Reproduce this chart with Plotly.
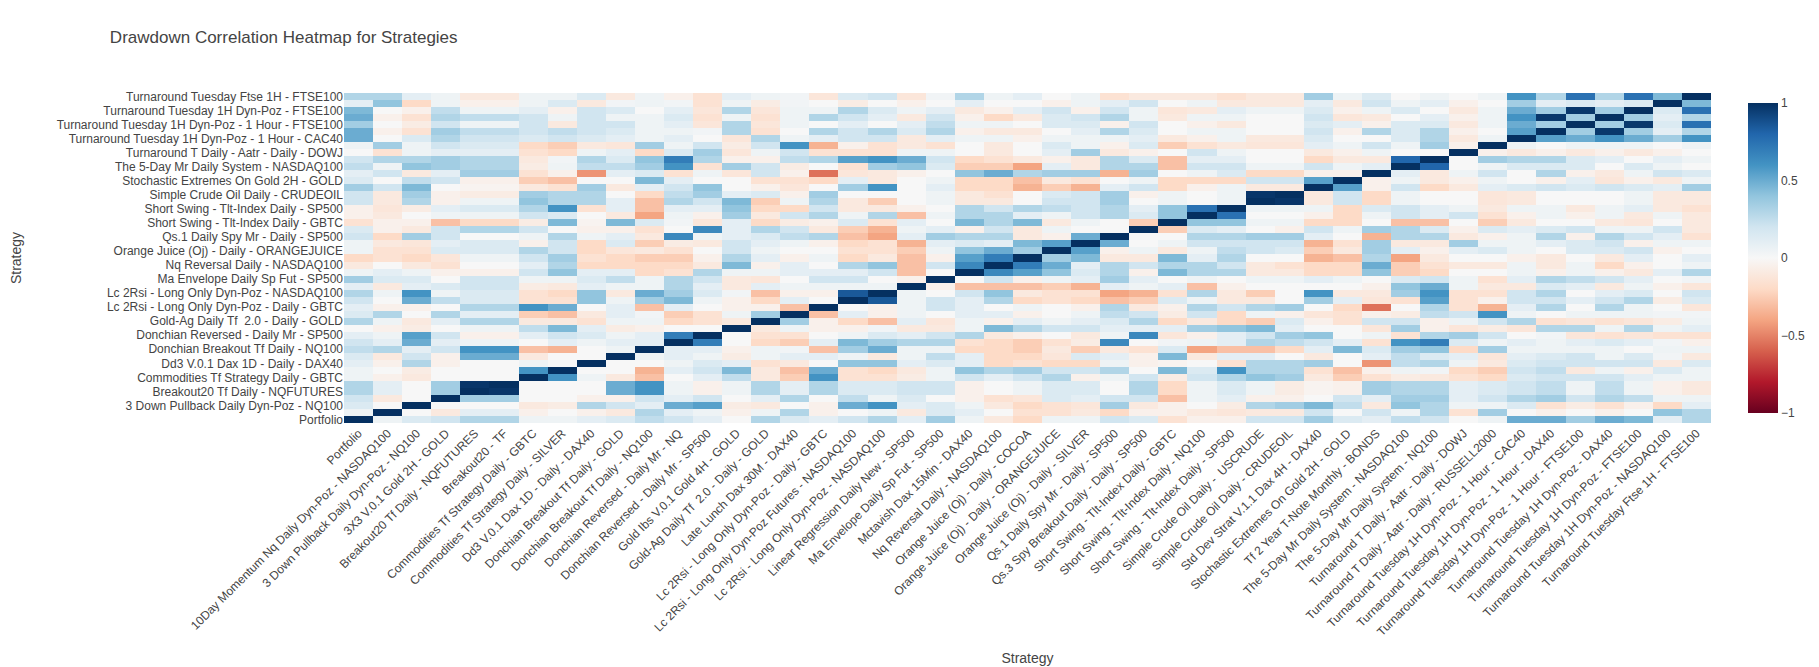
import numpy as np
import plotly.graph_objects as go

strategies = [
    "Portfolio",
    "10Day Momentum Nq Daily Dyn-Poz - NASDAQ100",
    "3 Down Pullback Daily Dyn-Poz - NQ100",
    "3X3 V.0.1 Gold 2H - GOLD",
    "Breakout20 Tf Daily - NQFUTURES",
    "Breakout20 - TF",
    "Commodities Tf Strategy Daily - GBTC",
    "Commodities Tf Strategy Daily - SILVER",
    "Dd3 V.0.1 Dax 1D - Daily - DAX40",
    "Donchian Breakout Tf Daily - GOLD",
    "Donchian Breakout Tf Daily - NQ100",
    "Donchian Reversed - Daily Mr - NQ",
    "Donchian Reversed - Daily Mr - SP500",
    "Gold Ibs V.0.1 Gold 4H - GOLD",
    "Gold-Ag Daily Tf  2.0 - Daily - GOLD",
    "Late Lunch Dax 30M - DAX40",
    "Lc 2Rsi - Long Only Dyn-Poz - Daily - GBTC",
    "Lc 2Rsi - Long Only Dyn-Poz Futures - NASDAQ100",
    "Lc 2Rsi - Long Only Dyn-Poz - NASDAQ100",
    "Linear Regression Daily New - SP500",
    "Ma Envelope Daily Sp Fut - SP500",
    "Mctavish Dax 15Min - DAX40",
    "Nq Reversal Daily - NASDAQ100",
    "Orange Juice (Oj) - Daily - COCOA",
    "Orange Juice (Oj) - Daily - ORANGEJUICE",
    "Orange Juice (Oj) - Daily - SILVER",
    "Qs.1 Daily Spy Mr - Daily - SP500",
    "Qs.3 Spy Breakout Daily - Daily - SP500",
    "Short Swing - Tlt-Index Daily - GBTC",
    "Short Swing - Tlt-Index Daily - NQ100",
    "Short Swing - Tlt-Index Daily - SP500",
    "Simple Crude Oil Daily -  USCRUDE",
    "Simple Crude Oil Daily - CRUDEOIL",
    "Std Dev Strat V.1.1 Dax 4H - DAX40",
    "Stochastic Extremes On Gold 2H - GOLD",
    "Tf 2 Year T-Note Monthly - BONDS",
    "The 5-Day Mr Daily System - NASDAQ100",
    "The 5-Day Mr Daily System - NQ100",
    "Turnaround T Daily - Aatr - Daily - DOWJ",
    "Turnaround T Daily - Aatr - Daily - RUSSELL2000",
    "Turnaround Tuesday 1H Dyn-Poz - 1 Hour - CAC40",
    "Turnaround Tuesday 1H Dyn-Poz - 1 Hour - DAX40",
    "Turnaround Tuesday 1H Dyn-Poz - 1 Hour - FTSE100",
    "Turnaround Tuesday 1H Dyn-Poz - DAX40",
    "Turnaround Tuesday 1H Dyn-Poz - FTSE100",
    "Turnaround Tuesday 1H Dyn-Poz - NASDAQ100",
    "Turnaround Tuesday Ftse 1H - FTSE100",
]

# Correlations of each strategy (column) with the strategies listed after it,
# written from the last strategy (top row) down to the one just after it.
col_00 = [0.3, 0.1, 0.45, 0.5, 0.35, 0.5, 0.5, 0.05, 0.0, 0.2,
          0.25, 0.1, 0.15, 0.35, 0.2, 0.2, -0.05, -0.05, -0.15, 0.15,
          0.2, 0.05, 0.05, -0.2, -0.1, 0.05, 0.35, 0.1, 0.3, 0.2,
          0.1, 0.15, 0.3, 0.0, 0.1, 0.2, 0.25, 0.15, 0.1, 0.05,
          0.05, 0.3, 0.3, 0.2, 0.15, 0.05]
col_01 = [0.3, 0.4, 0.0, -0.05, 0.0, -0.05, 0.0, 0.35, -0.15, 0.3,
          0.05, 0.2, 0.0, 0.2, -0.1, -0.1, -0.12, -0.1, -0.05, -0.05,
          -0.2, -0.1, -0.15, -0.15, 0.0, 0.1, 0.15, -0.1, 0.05, 0.0,
          -0.05, 0.3, 0.05, -0.05, 0.05, 0.1, 0.3, -0.1, -0.05, 0.0,
          -0.05, 0.1, 0.1, -0.1, 0.0]
col_02 = [0.1, -0.2, -0.05, -0.15, -0.08, -0.15, 0.15, 0.05, 0.05, 0.3,
          0.4, -0.1, 0.25, 0.45, 0.35, 0.3, -0.08, 0.0, -0.05, -0.1,
          0.35, -0.12, -0.15, -0.2, -0.1, 0.05, 0.15, 0.1, 0.6, 0.5,
          -0.05, 0.0, -0.1, -0.08, 0.55, 0.5, 0.1, 0.2, 0.3, -0.08,
          -0.1, 0.0, 0.0, 0.0]
col_03 = [0.05, 0.05, 0.25, 0.3, 0.2, 0.35, 0.3, 0.2, 0.1, 0.35,
          0.35, 0.1, 0.2, 0.0, -0.05, -0.05, 0.1, 0.05, -0.3, 0.2,
          0.2, 0.1, 0.15, -0.12, -0.15, -0.05, 0.0, 0.15, 0.05, 0.25,
          0.0, 0.3, 0.1, 0.0, 0.2, 0.1, 0.2, -0.05, -0.05, 0.0,
          0.0, 0.35, 0.35]
col_04 = [-0.1, -0.05, 0.05, 0.25, 0.05, 0.25, 0.2, 0.15, 0.1, 0.3,
          0.3, 0.35, -0.05, -0.03, -0.08, 0.05, 0.15, 0.05, -0.2, 0.3,
          0.0, 0.15, 0.15, 0.05, 0.0, -0.05, 0.2, 0.2, 0.15, 0.15,
          0.3, 0.1, 0.3, 0.05, -0.05, 0.05, 0.6, 0.5, 0.0, 0.0,
          0.0, 0.98]
col_05 = [-0.1, -0.05, 0.05, 0.25, 0.05, 0.25, 0.2, 0.15, 0.1, 0.3,
          0.3, 0.35, -0.05, -0.03, -0.08, 0.05, 0.15, 0.05, -0.2, 0.3,
          0.0, 0.15, 0.15, 0.05, 0.0, -0.05, 0.2, 0.2, 0.15, 0.15,
          0.3, 0.1, 0.3, 0.05, -0.05, 0.05, 0.6, 0.5, 0.0, 0.0,
          0.0]
col_06 = [0.05, 0.05, 0.1, 0.2, 0.2, 0.2, 0.15, -0.2, -0.15, -0.1,
          -0.08, -0.15, -0.25, -0.1, 0.35, 0.4, 0.3, 0.2, -0.08, 0.2,
          0.05, -0.05, 0.3, 0.2, 0.1, 0.2, 0.05, -0.08, -0.15, -0.15,
          0.6, -0.25, -0.1, 0.25, 0.1, 0.0, -0.3, -0.1, 0.05, 0.6]
col_07 = [0.05, 0.15, -0.05, 0.05, -0.1, 0.25, 0.2, -0.25, -0.2, 0.03,
          0.05, -0.05, -0.3, -0.15, 0.3, 0.3, 0.6, 0.15, 0.45, 0.0,
          0.3, 0.2, 0.2, 0.35, 0.3, 0.4, 0.05, -0.1, -0.2, -0.15,
          0.5, -0.3, -0.1, 0.45, 0.2, 0.1, -0.35, 0.0, 0.0]
col_08 = [0.15, -0.1, 0.2, 0.2, 0.2, 0.2, 0.15, -0.1, 0.05, 0.3,
          0.25, -0.45, 0.0, 0.35, 0.3, 0.3, -0.15, 0.0, -0.03, -0.05,
          0.05, -0.2, -0.2, -0.15, -0.2, 0.1, 0.15, 0.1, 0.4, 0.4,
          0.0, -0.1, -0.15, 0.1, 0.15, 0.05, 0.0, 0.0]
col_09 = [-0.1, 0.03, 0.15, 0.05, 0.2, 0.15, 0.1, -0.12, 0.1, 0.15,
          0.25, 0.1, 0.0, -0.1, 0.0, 0.1, 0.1, -0.1, 0.45, -0.05,
          0.1, 0.15, -0.12, -0.2, -0.2, 0.1, 0.25, 0.05, -0.1, 0.05,
          0.1, 0.1, 0.05, -0.08, 0.05, 0.1, 0.05]
col_10 = [0.05, 0.05, 0.0, 0.05, 0.05, 0.05, 0.05, 0.35, -0.2, 0.4,
          0.35, 0.15, 0.45, 0.1, -0.2, -0.3, -0.3, -0.4, 0.15, -0.15,
          -0.1, -0.25, -0.1, -0.25, -0.2, -0.2, 0.05, 0.05, 0.5, 0.35,
          -0.3, 0.03, 0.05, -0.05, 0.1, 0.1]
col_11 = [-0.05, 0.03, 0.1, 0.15, 0.1, 0.05, 0.1, 0.05, 0.15, 0.7,
          0.6, -0.15, 0.1, 0.2, 0.25, 0.3, 0.1, 0.05, 0.03, 0.0,
          0.65, -0.08, -0.15, -0.25, -0.2, -0.15, 0.3, 0.3, 0.35, 0.45,
          0.1, -0.25, -0.2, 0.0, 0.7]
col_12 = [-0.15, -0.15, -0.12, -0.15, -0.12, 0.03, 0.0, 0.2, 0.35, 0.3,
          -0.15, 0.05, 0.0, 0.4, 0.35, 0.2, 0.1, -0.05, -0.12, 0.65,
          0.05, -0.1, 0.0, -0.05, -0.1, 0.3, 0.2, 0.1, 0.15, 0.05,
          0.0, -0.15, -0.15, 0.0]
col_13 = [0.1, 0.05, 0.3, 0.05, 0.3, 0.3, -0.12, -0.08, -0.12, -0.05,
          0.35, -0.12, 0.0, 0.0, 0.1, 0.45, 0.4, 0.35, 0.1, 0.1,
          0.1, 0.2, 0.2, 0.3, 0.45, 0.05, -0.1, -0.1, 0.03, -0.05,
          -0.05, 0.05, -0.1]
col_14 = [0.05, -0.08, -0.12, -0.15, -0.12, -0.15, 0.3, 0.2, 0.05, -0.05,
          0.2, 0.2, -0.15, -0.05, 0.15, -0.25, -0.2, -0.1, -0.2, 0.3,
          0.15, 0.1, 0.05, 0.1, -0.05, 0.05, -0.12, 0.1, -0.3, -0.2,
          -0.05, 0.35]
col_15 = [0.03, 0.03, 0.05, 0.05, 0.05, 0.0, 0.05, 0.6, 0.2, 0.25,
          -0.08, -0.05, -0.15, -0.12, -0.05, 0.05, -0.2, 0.2, -0.08, 0.2,
          0.25, 0.05, 0.0, -0.05, 0.1, 0.1, 0.0, 0.05, -0.05, 0.1,
          -0.3]
col_16 = [-0.12, 0.0, 0.05, 0.3, 0.0, 0.3, 0.1, -0.35, -0.15, 0.3,
          0.0, -0.55, -0.2, 0.0, 0.35, 0.3, 0.2, 0.3, -0.05, -0.1,
          0.3, -0.05, 0.0, 0.05, 0.0, 0.1, 0.2, 0.05, -0.05, 0.0]
col_17 = [0.15, -0.08, 0.3, 0.2, 0.1, 0.2, 0.2, -0.05, -0.15, 0.55,
          -0.15, -0.12, 0.1, 0.35, 0.0, -0.1, -0.1, 0.05, 0.15, -0.25,
          -0.3, -0.2, -0.15, -0.2, 0.3, 0.1, 0.2, 0.05, 0.85]
col_18 = [0.2, 0.0, 0.15, 0.1, 0.0, 0.3, 0.2, -0.15, -0.15, 0.6,
          0.35, -0.1, -0.1, 0.6, 0.0, -0.25, -0.1, 0.3, -0.15, -0.35,
          -0.4, -0.15, -0.15, -0.1, 0.4, 0.2, 0.0, 0.05]
col_19 = [-0.12, -0.05, 0.05, -0.1, 0.1, 0.15, -0.1, -0.1, 0.05, 0.5,
          0.4, -0.05, 0.0, 0.0, 0.0, 0.0, -0.05, -0.3, 0.1, 0.05,
          0.1, -0.35, -0.25, -0.3, -0.3, -0.3, -0.05]
col_20 = [0.03, 0.0, 0.1, 0.2, 0.25, 0.3, 0.1, -0.15, 0.05, 0.2,
          0.15, 0.0, 0.05, 0.1, 0.05, 0.05, 0.0, 0.05, 0.0, 0.1,
          0.35, 0.1, 0.05, -0.05, 0.2, 0.0]
col_21 = [0.3, 0.1, -0.1, -0.05, 0.05, -0.05, 0.05, 0.0, 0.0, -0.2,
          -0.25, 0.4, -0.2, -0.2, -0.1, -0.1, 0.3, 0.3, 0.45, -0.05,
          0.3, 0.15, 0.4, 0.55, 0.65]
col_22 = [0.05, 0.0, -0.05, -0.2, 0.05, -0.1, 0.05, -0.1, -0.1, -0.15,
          -0.25, 0.5, -0.2, -0.2, -0.15, -0.1, 0.2, 0.3, 0.3, 0.2,
          0.3, 0.1, 0.5, 0.7]
col_23 = [0.1, 0.0, 0.1, -0.1, 0.0, -0.1, -0.05, 0.0, 0.0, -0.1,
          -0.4, 0.3, -0.3, -0.35, 0.0, 0.0, 0.3, 0.1, 0.45, -0.1,
          -0.1, 0.45, 0.35]
col_24 = [0.0, -0.05, 0.2, 0.15, 0.15, 0.0, 0.05, 0.15, 0.1, -0.05,
          0.1, 0.35, -0.1, -0.25, 0.15, 0.2, 0.25, 0.05, -0.1, 0.05,
          -0.05, 0.55]
col_25 = [0.05, 0.05, -0.05, 0.2, 0.15, 0.1, 0.05, 0.05, 0.35, -0.1,
          -0.1, 0.35, -0.15, -0.35, 0.2, 0.2, 0.2, 0.2, 0.05, 0.0,
          0.5]
col_26 = [-0.15, 0.1, 0.2, 0.3, -0.05, 0.3, 0.05, -0.05, -0.1, 0.3,
          0.3, -0.35, 0.0, 0.1, 0.35, 0.35, 0.3, 0.3, 0.0, 0.0]
col_27 = [-0.1, 0.2, 0.05, 0.05, 0.2, 0.15, 0.1, 0.15, -0.05, 0.15,
          0.3, 0.35, 0.05, 0.2, -0.05, 0.0, 0.1, 0.15, -0.25]
col_28 = [-0.1, 0.0, -0.12, -0.1, 0.0, 0.0, -0.1, -0.25, 0.0, -0.3,
          -0.3, 0.0, -0.2, -0.2, 0.05, 0.05, 0.4, 0.4]
col_29 = [-0.1, 0.05, -0.1, 0.05, -0.05, 0.05, -0.05, -0.15, 0.2, 0.1,
          0.2, 0.05, -0.2, -0.05, 0.0, 0.0, 0.75]
col_30 = [-0.15, -0.1, 0.1, 0.05, -0.1, 0.05, 0.05, -0.1, 0.05, 0.1,
          0.2, 0.15, -0.2, 0.05, 0.05, 0.05]
col_31 = [-0.1, -0.1, 0.05, 0.0, 0.0, 0.0, -0.1, -0.12, 0.0, 0.0,
          0.05, -0.2, 0.2, -0.1, 0.98]
col_32 = [-0.1, -0.1, 0.05, 0.0, 0.0, 0.0, -0.1, -0.12, 0.0, 0.0,
          0.05, -0.2, 0.2, -0.1]
col_33 = [0.35, 0.1, 0.15, 0.2, 0.15, 0.2, 0.15, 0.1, -0.1, -0.2,
          0.2, -0.05, 0.55]
col_34 = [0.05, -0.1, -0.05, -0.12, 0.1, -0.05, 0.0, 0.05, -0.05, -0.1,
          0.05, -0.05]
col_35 = [0.15, 0.2, 0.05, -0.1, -0.05, 0.3, 0.0, 0.2, 0.05, -0.1, 0.1]
col_36 = [0.0, 0.05, 0.15, 0.0, 0.15, 0.15, 0.15, 0.05, 0.0, 0.8]
col_37 = [0.05, 0.1, 0.0, 0.1, 0.15, 0.3, 0.3, 0.35, 0.0]
col_38 = [0.0, -0.05, -0.1, -0.05, -0.1, -0.05, -0.1, -0.05]
col_39 = [0.05, 0.0, 0.05, 0.05, 0.05, 0.0, 0.05]
col_40 = [0.6, 0.35, 0.5, 0.6, 0.5, 0.55]
col_41 = [0.3, 0.1, 0.35, 0.97, 0.35]
col_42 = [0.75, 0.15, 0.97, 0.35]
col_43 = [0.3, 0.1, 0.35]
col_44 = [0.75, 0.15]
col_45 = [0.45]

columns = [col_00, col_01, col_02, col_03, col_04, col_05, col_06, col_07,
           col_08, col_09, col_10, col_11, col_12, col_13, col_14, col_15,
           col_16, col_17, col_18, col_19, col_20, col_21, col_22, col_23,
           col_24, col_25, col_26, col_27, col_28, col_29, col_30, col_31,
           col_32, col_33, col_34, col_35, col_36, col_37, col_38, col_39,
           col_40, col_41, col_42, col_43, col_44, col_45]

n = len(strategies)
z = np.eye(n)
for c, vals in enumerate(columns):
    assert len(vals) == n - 1 - c, (c, len(vals))
    for k, v in enumerate(vals):
        r = n - 1 - k
        z[r, c] = v
        z[c, r] = v

fig = go.Figure(
    go.Heatmap(
        z=z,
        x=strategies,
        y=strategies,
        colorscale="RdBu",
        zmin=-1,
        zmax=1,
    )
)

fig.update_layout(
    width=1819,
    height=667,
    font=dict(family="Liberation Sans, Arial, sans-serif", size=12, color="#444"),
    title=dict(
        text="Drawdown Correlation Heatmap for Strategies",
        x=0.056,
        xanchor="left",
        y=0.957,
        yanchor="middle",
        font=dict(size=17),
    ),
    margin=dict(l=336, r=116, t=85, b=252),
    paper_bgcolor="white",
    plot_bgcolor="white",
)
fig.update_xaxes(
    title=dict(text="Strategy"),
    tickmode="array",
    tickvals=strategies,
    tickangle=-45,
    automargin=False,
    showgrid=False,
)
fig.update_yaxes(
    title=dict(text="Strategy", standoff=45),
    tickmode="array",
    tickvals=strategies[::2],
    automargin=False,
    showgrid=False,
)

fig.write_html("out.html")
